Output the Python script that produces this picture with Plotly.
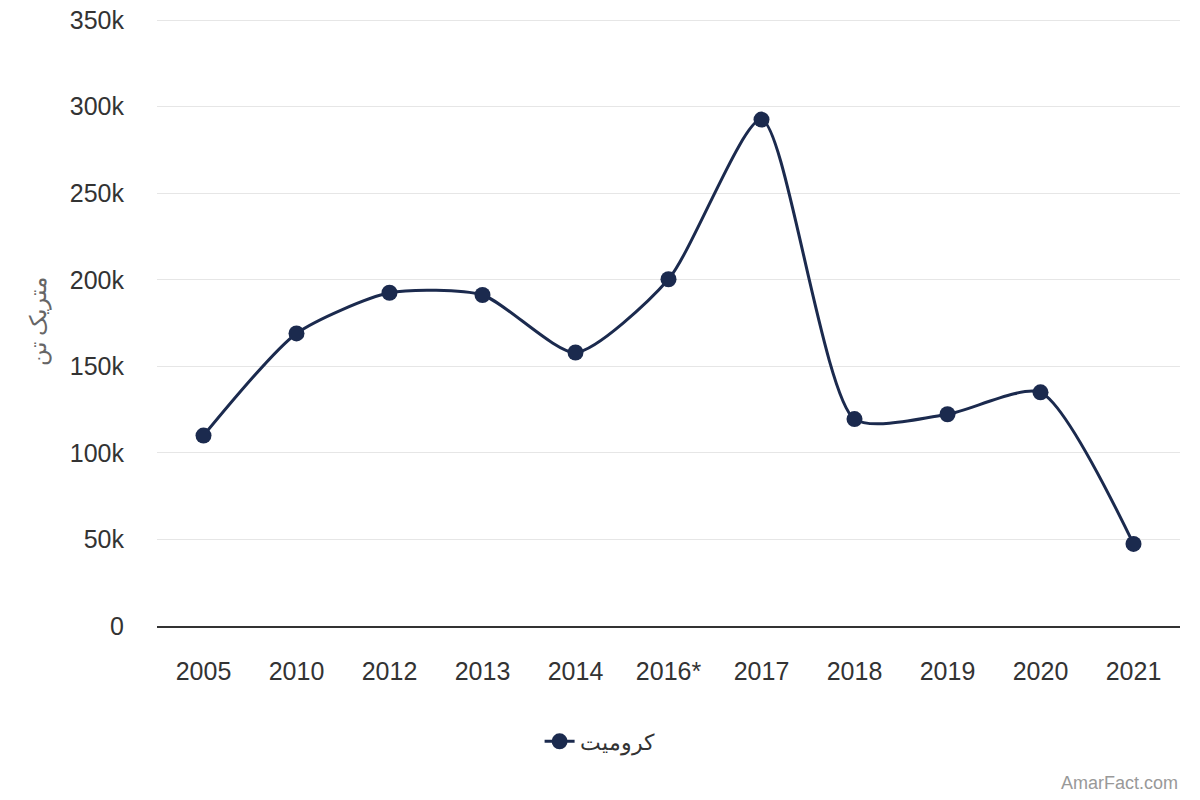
import plotly.graph_objects as go

# data
years = ["2005", "2010", "2012", "2013", "2014", "2016*", "2017", "2018", "2019", "2020", "2021"]
chromite = [110000, 169000, 192500, 191200, 158000, 200300, 292500, 119500, 122300, 135000, 47400]
tick_vals = [0, 50000, 100000, 150000, 200000, 250000, 300000, 350000]
tick_text = ["0", "50k", "100k", "150k", "200k", "250k", "300k", "350k"]

NAVY = "#1b2a4e"
FONT = "Liberation Sans, Arial, sans-serif"

fig = go.Figure()
fig.add_trace(go.Scatter(
    x=years, y=chromite, name="کرومیت",
    mode="lines+markers",
    line=dict(color=NAVY, width=3, shape="spline", smoothing=0.65),
    marker=dict(color=NAVY, size=16),
))

# page body adds an 8px margin, so the figure is a bit smaller than the window
# top of range nudged past 350k so plotly still draws that gridline
fig.update_layout(
    width=1184, height=784,
    margin=dict(l=149, r=12, t=10, b=166, autoexpand=False),
    plot_bgcolor="white", paper_bgcolor="white",
    font=dict(family=FONT, size=25, color="#333333"),
    showlegend=True,
    legend=dict(orientation="h", x=0.374, xanchor="left", y=-0.19, yanchor="middle",
                font=dict(size=22, color="#333333")),
    xaxis=dict(type="category", range=[-0.5, 10.5], showgrid=False,
               showline=True, linecolor="#333333", linewidth=2, automargin=False,
               ticks="", ticklabelstandoff=22, zeroline=False),
    yaxis=dict(range=[0, 351200], tickvals=tick_vals, ticktext=tick_text,
               showgrid=True, gridcolor="#e6e6e6", gridwidth=1, automargin=False,
               zeroline=False, showline=False, ticks="", ticklabelstandoff=32,
               ticklabeloverflow="allow"),
)

# y-axis title as an annotation so it can sit where the reference puts it
fig.add_annotation(text="متریک تن", xref="paper", yref="paper",
                   x=-0.1163, y=0.5, xanchor="center", yanchor="middle",
                   textangle=-90, showarrow=False,
                   font=dict(size=23, color="#666666"))

fig.add_annotation(text="AmarFact.com", xref="paper", yref="paper",
                   x=1.0, y=-0.259, xanchor="right", yanchor="middle", showarrow=False,
                   font=dict(size=18, color="#999999"))

fig.write_html("out.html")
